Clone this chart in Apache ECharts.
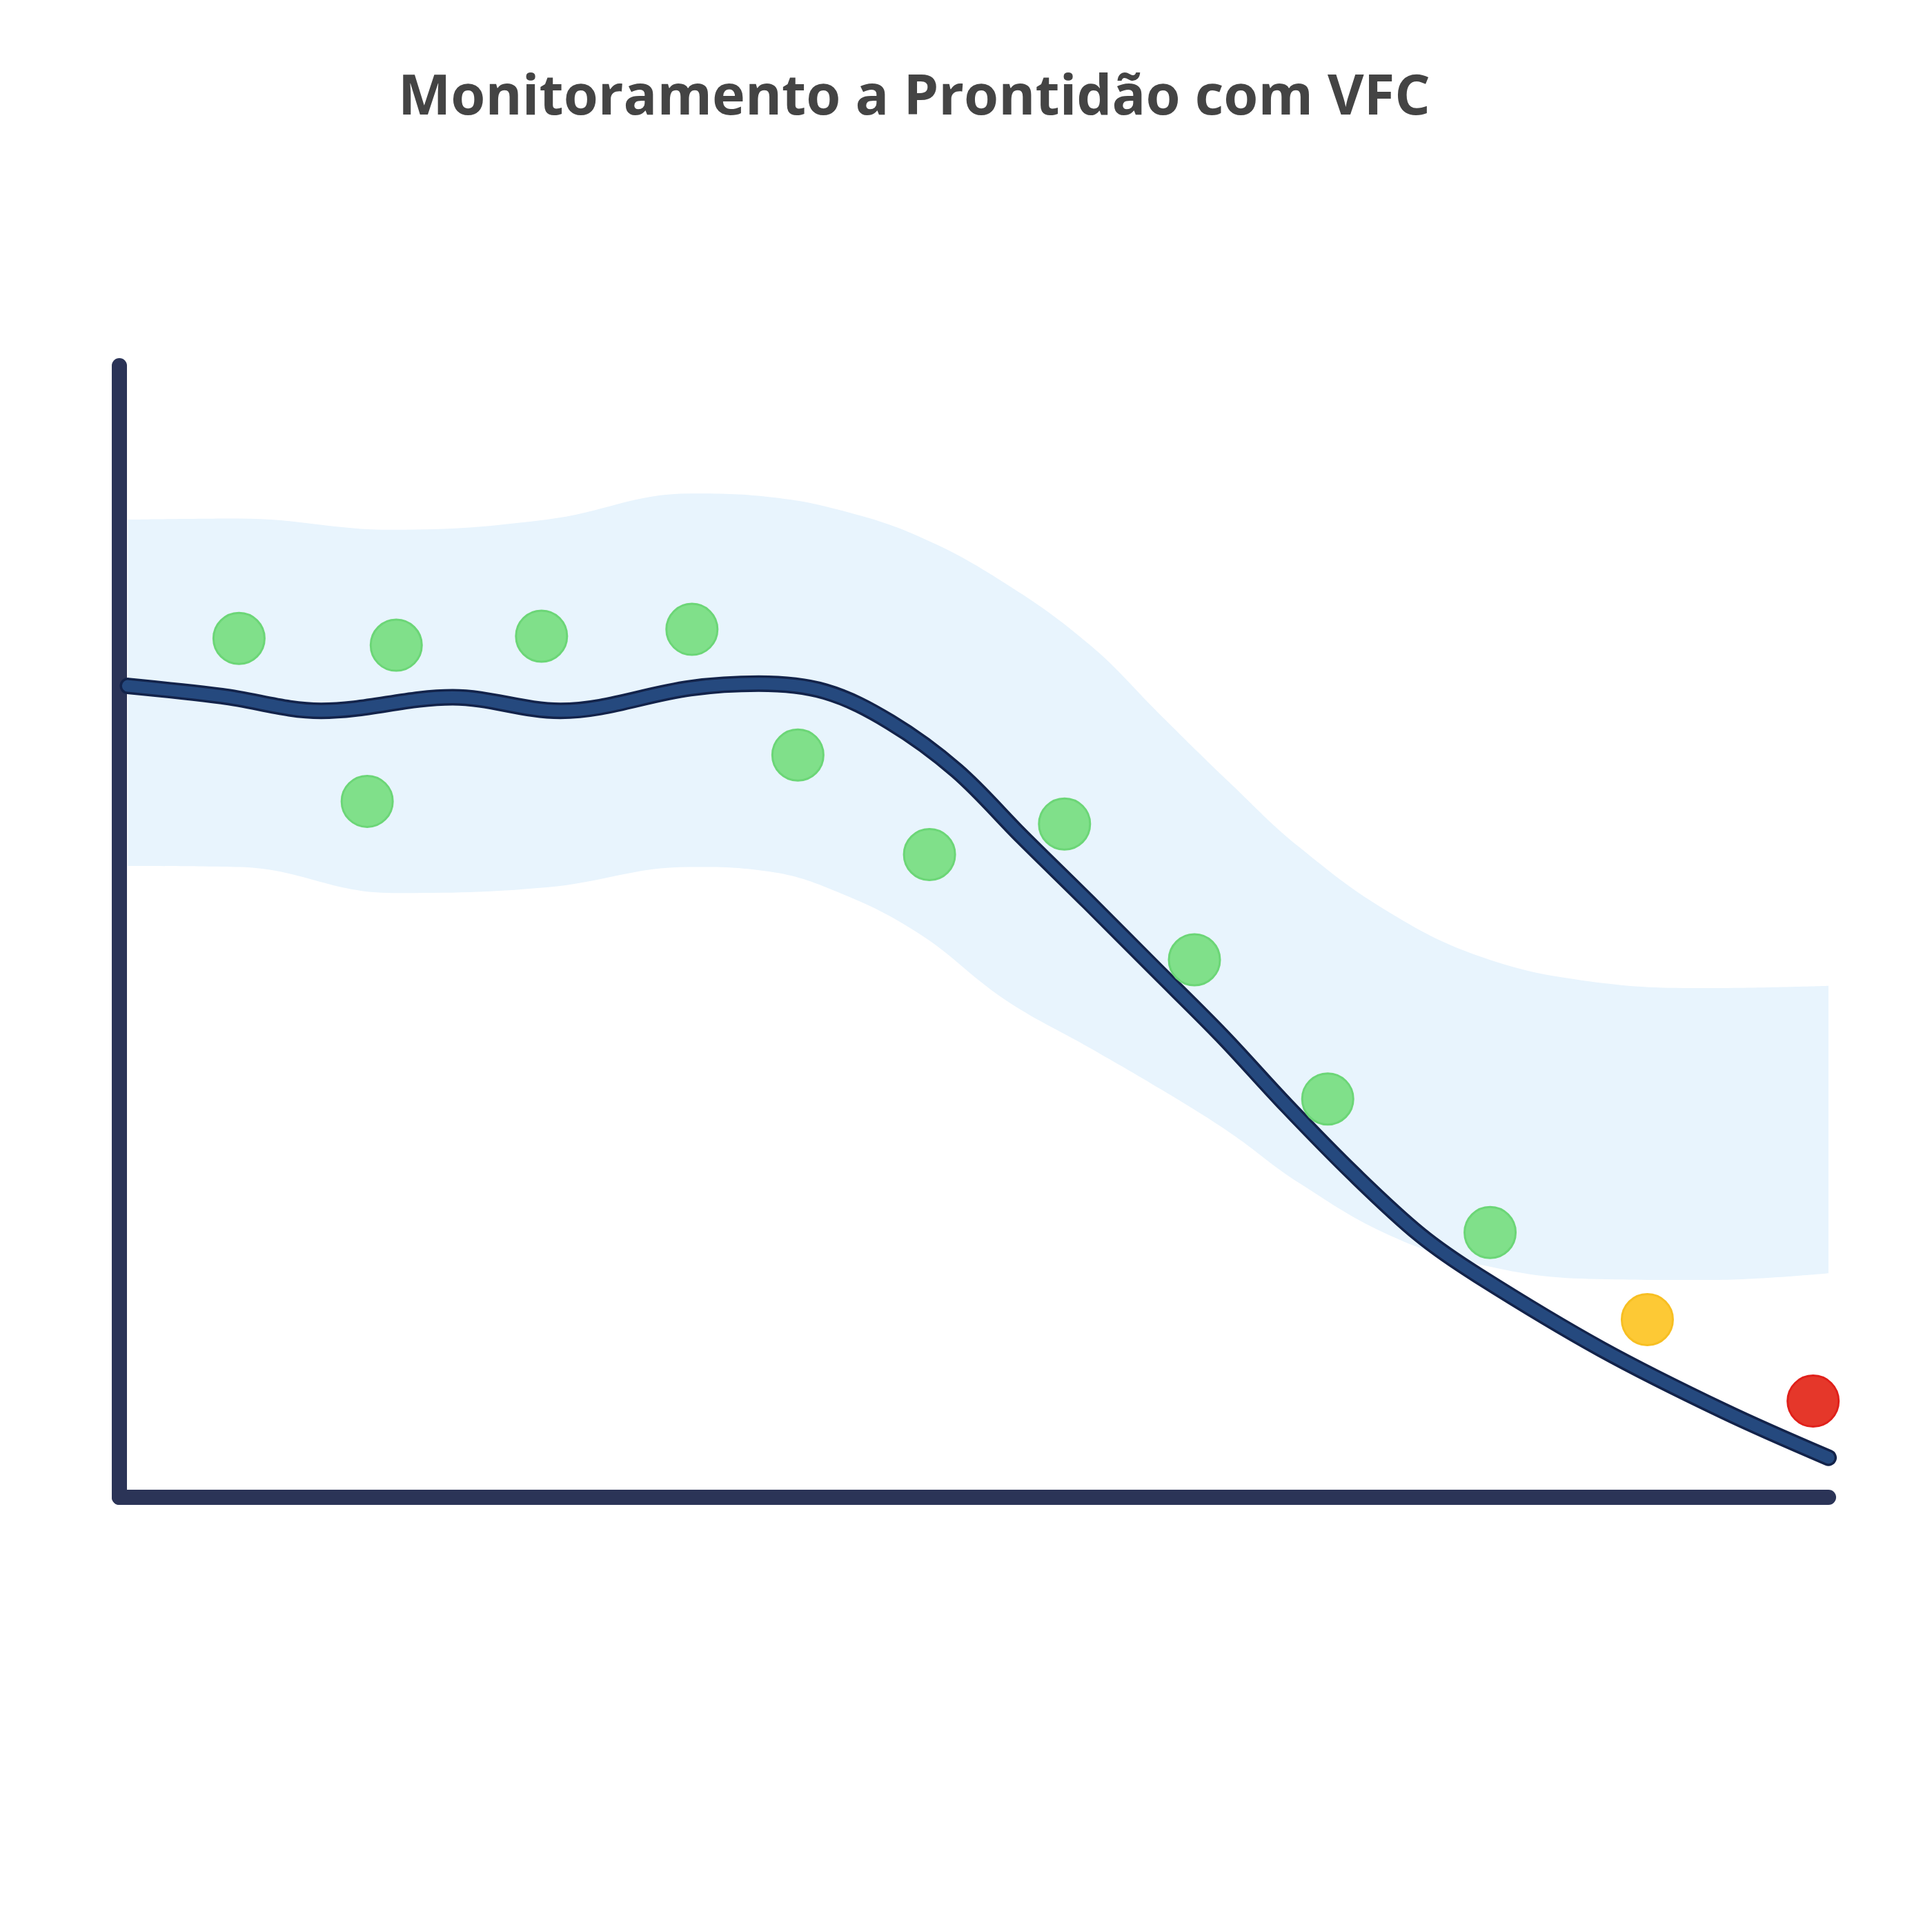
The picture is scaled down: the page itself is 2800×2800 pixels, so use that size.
<!DOCTYPE html>
<html>
<head>
<meta charset="utf-8">
<title>Monitoramento a Prontidão com VFC</title>
<script src="https://cdn.jsdelivr.net/npm/echarts@6/dist/echarts.min.js"></script>
<style>
  html, body { margin: 0; padding: 0; background: #fff; }
  #chart { width: 2800px; height: 2800px; }
</style>
</head>
<body>
<div id="chart"></div>
<script>
// prontidão (VFC), eixo 0-100
var readX = [7.0, 14.5, 16.2, 24.7, 33.5, 39.7, 47.4, 55.3, 62.9, 70.7, 80.2, 89.4, 99.1];
var readY = [75.9, 61.5, 75.3, 76.1, 76.7, 65.6, 56.8, 59.5, 47.5, 35.2, 23.4, 15.7, 8.5];
var readStatus = ['ok', 'ok', 'ok', 'ok', 'ok', 'ok', 'ok', 'ok', 'ok', 'ok', 'ok', 'alerta', 'critico'];

// linha de base
var baseX = [0.5, 6, 11.8, 19.5, 25.8, 33.4, 37.4, 41.3, 45.1, 49.0, 52.8, 56.7, 60.6, 64.5, 68.3, 72.2, 76.1, 79.5, 86.7, 93.9, 100];
var baseY = [71.7, 70.8, 69.5, 70.7, 69.5, 71.5, 71.9, 71.2, 68.5, 64.2, 58.4, 52.6, 46.7, 40.8, 34.6, 28.6, 23.2, 19.6, 13.1, 7.6, 3.5];

// faixa normal
var bandX = [0.5, 7, 16, 25, 33.4, 38, 42, 46.8, 51.8, 56.8, 61, 65, 69, 74.4, 79.8, 86, 93, 100];
var bandUpper = [86.4, 86.5, 85.5, 86.4, 88.7, 88.4, 87.3, 84.9, 80.8, 75.3, 69.0, 63.1, 57.5, 51.6, 47.7, 45.6, 45.0, 45.2];
var bandLower = [55.8, 55.7, 53.4, 53.9, 55.7, 55.3, 53.5, 49.8, 44.0, 39.7, 36.0, 32.2, 27.8, 23.1, 20.5, 19.3, 19.2, 19.8];

var statusColor = {
  ok: ['#80e08a', '#6cd677'],
  alerta: ['#fdc935', '#f7bf22'],
  critico: ['#e5372a', '#e0201a']
};

var chart = echarts.init(document.getElementById('chart'));

// y first so the stack goes on y (both axes are value axes)
var lowerData = bandX.map(function (x, i) { return [bandLower[i], x]; });
var widthData = bandX.map(function (x, i) { return [bandUpper[i] - bandLower[i], x]; });
var baseData = baseX.map(function (x, i) { return [x, baseY[i]]; });
var pointData = readX.map(function (x, i) {
  var c = statusColor[readStatus[i]];
  return { value: [x, readY[i]], itemStyle: { color: c[0], borderColor: c[1], borderWidth: 3, opacity: 1 } };
});

chart.setOption({
  animation: false,
  backgroundColor: '#ffffff',
  title: {
    text: 'Monitoramento a Prontidão com VFC',
    left: 572,
    top: 97,
    textStyle: { fontFamily: 'Open Sans', fontWeight: 'bold', fontSize: 81, color: '#444444' }
  },
  grid: { left: 173, right: 150, top: 530, bottom: 630 },
  xAxis: {
    type: 'value', min: 0, max: 100,
    axisLine: { show: true, onZero: false, lineStyle: { color: '#2b3457', width: 22, cap: 'round' } },
    axisTick: { show: false }, axisLabel: { show: false }, splitLine: { show: false }
  },
  yAxis: {
    type: 'value', min: 0, max: 100,
    axisLine: { show: true, lineStyle: { color: '#2b3457', width: 22, cap: 'round' } },
    axisTick: { show: false }, axisLabel: { show: false }, splitLine: { show: false }
  },
  series: [
    {
      type: 'line', stack: 'faixa', data: lowerData, encode: { x: 1, y: 0 }, smooth: 0.4,
      symbol: 'none', lineStyle: { width: 0, opacity: 0 }, silent: true, z: 1
    },
    {
      type: 'line', stack: 'faixa', data: widthData, encode: { x: 1, y: 0 }, smooth: 0.4,
      symbol: 'none', lineStyle: { width: 0, opacity: 0 },
      areaStyle: { color: '#e8f4fd', opacity: 1 }, silent: true, z: 1
    },
    {
      type: 'line', data: baseData, smooth: 0.35, symbol: 'none',
      lineStyle: { color: '#13234a', width: 24, cap: 'round', join: 'round' }, z: 3
    },
    {
      type: 'line', data: baseData, smooth: 0.35, symbol: 'none',
      lineStyle: { color: '#25497e', width: 17, cap: 'round', join: 'round' }, z: 4
    },
    {
      type: 'scatter', data: pointData, symbolSize: 74, z: 5
    }
  ]
});
</script>
</body>
</html>
